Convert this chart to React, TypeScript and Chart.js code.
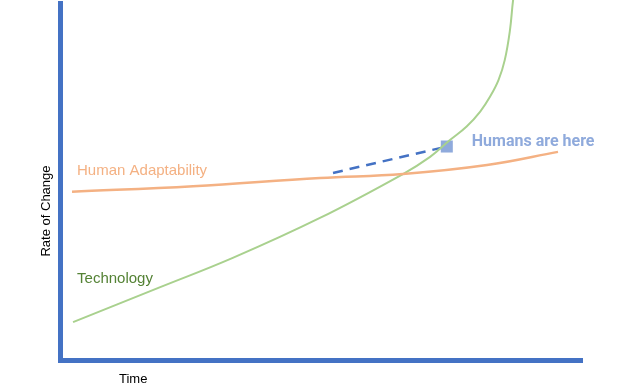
import React, { useEffect, useRef } from "react";
import { Chart, registerables } from "chart.js";

Chart.register(...registerables);

// Time axis positions (0..100) and rate-of-change values (0..100)
const adaptabilityTime = [2.3, 25.5, 49.8, 65.7, 81.8, 95.4];
const adaptabilityRate = [47.1, 48.7, 51.0, 52.1, 54.6, 58.3];

const technologyTime = [2.5, 19.2, 33.1, 49.8, 65.7, 70.9, 74.7, 77.9, 80.5, 82.4, 84.0, 85.2, 86.2, 86.8, 87.2];
const technologyRate = [10.6, 20.4, 28.6, 39.8, 52.1, 56.9, 61.6, 65.4, 69.6, 73.8, 78.4, 84.0, 92.4, 100.8, 104];

const humansTime = [52.3, 74.1];
const humansRate = [52.4, 59.8];

const seriesLabels = ["Human Adaptability", "Technology", "Humans are here"];
const axisTitles = { x: "Time", y: "Rate of Change" };

const ORANGE = "#f4b183";
const GREEN_LINE = "#a9d18e";
const GREEN_TEXT = "#548235";
const AXIS_BLUE = "#4472c4";
const MARK_BLUE = "#8faadc";

const zip = (xs: number[], ys: number[]) => xs.map((x, i) => ({ x, y: ys[i] }));

const textPlugin = {
  id: "textLabels",
  afterDatasetsDraw(chart: any) {
    const { ctx, scales } = chart;
    const xs = scales.x;
    const ys = scales.y;
    ctx.save();
    ctx.textBaseline = "alphabetic";
    ctx.textAlign = "left";

    // Humans are here – right of the marker
    const mx = xs.getPixelForValue(humansTime[1]);
    const my = ys.getPixelForValue(humansRate[1]);
    ctx.font = "bold 16px Roboto";
    ctx.fillStyle = MARK_BLUE;
    ctx.fillText(seriesLabels[2], mx + 25, my - 0.5);

    // Human Adaptability – above the start of the orange line
    const ax = xs.getPixelForValue(adaptabilityTime[0]);
    const ay = ys.getPixelForValue(adaptabilityRate[0]);
    ctx.font = "15px 'Liberation Sans', Arial, sans-serif";
    ctx.fillStyle = ORANGE;
    ctx.fillText(seriesLabels[0], ax + 5, ay - 17);

    // Technology – above the start of the green line
    const tx = xs.getPixelForValue(technologyTime[0]);
    const ty = ys.getPixelForValue(technologyRate[0]);
    ctx.fillStyle = GREEN_TEXT;
    ctx.fillText(seriesLabels[1], tx + 4, ty - 39);

    // Axis titles
    const area = chart.chartArea;
    ctx.font = "13px 'Liberation Sans', Arial, sans-serif";
    ctx.fillStyle = "#000000";
    ctx.fillText(axisTitles.x, area.left + 59, area.bottom + 23);

    ctx.translate(area.left - 10.5, area.top + 208);
    ctx.rotate(-Math.PI / 2);
    ctx.textAlign = "center";
    ctx.fillText(axisTitles.y, 0, 0);
    ctx.restore();
  },
};

export default function App() {
  const ref = useRef<HTMLCanvasElement>(null);

  useEffect(() => {
    if (!ref.current) return;
    const chart = new Chart(ref.current, {
      type: "line",
      data: {
        datasets: [
          {
            label: seriesLabels[0],
            data: zip(adaptabilityTime, adaptabilityRate),
            borderColor: ORANGE,
            borderWidth: 2.5,
            pointRadius: 0,
            tension: 0.4,
            fill: false,
          },
          {
            label: seriesLabels[1],
            data: zip(technologyTime, technologyRate),
            borderColor: GREEN_LINE,
            borderWidth: 2,
            pointRadius: 0,
            tension: 0.4,
            fill: false,
            clip: false,
          },
          {
            label: seriesLabels[2],
            data: zip(humansTime, humansRate),
            borderColor: AXIS_BLUE,
            borderWidth: 2.5,
            borderDash: [10, 7],
            pointRadius: [0, 8.5],
            pointStyle: "rect",
            pointBackgroundColor: MARK_BLUE,
            pointBorderColor: MARK_BLUE,
            pointBorderWidth: 0,
            fill: false,
          },
        ],
      } as any,
      options: {
        animation: false,
        responsive: false,
        events: [],
        layout: { padding: { left: 60, right: 43, top: 3, bottom: 28 }, autoPadding: false } as any,
        plugins: {
          legend: { display: false },
          tooltip: { enabled: false },
        },
        scales: {
          x: {
            type: "linear",
            min: 0,
            max: 100,
            grid: { display: false, drawTicks: false },
            ticks: { display: false },
            border: { display: true, color: AXIS_BLUE, width: 5 },
          },
          y: {
            type: "linear",
            min: 0,
            max: 100,
            grid: { display: false, drawTicks: false },
            ticks: { display: false },
            border: { display: true, color: AXIS_BLUE, width: 5 },
          },
        },
      } as any,
      plugins: [textPlugin],
    });
    return () => chart.destroy();
  }, []);

  return (
    <div style={{ position: "absolute", left: 0, top: 0, width: 625, height: 388, background: "#fff" }}>
      <canvas ref={ref} width={625} height={388} style={{ display: "block" }} />
    </div>
  );
}
